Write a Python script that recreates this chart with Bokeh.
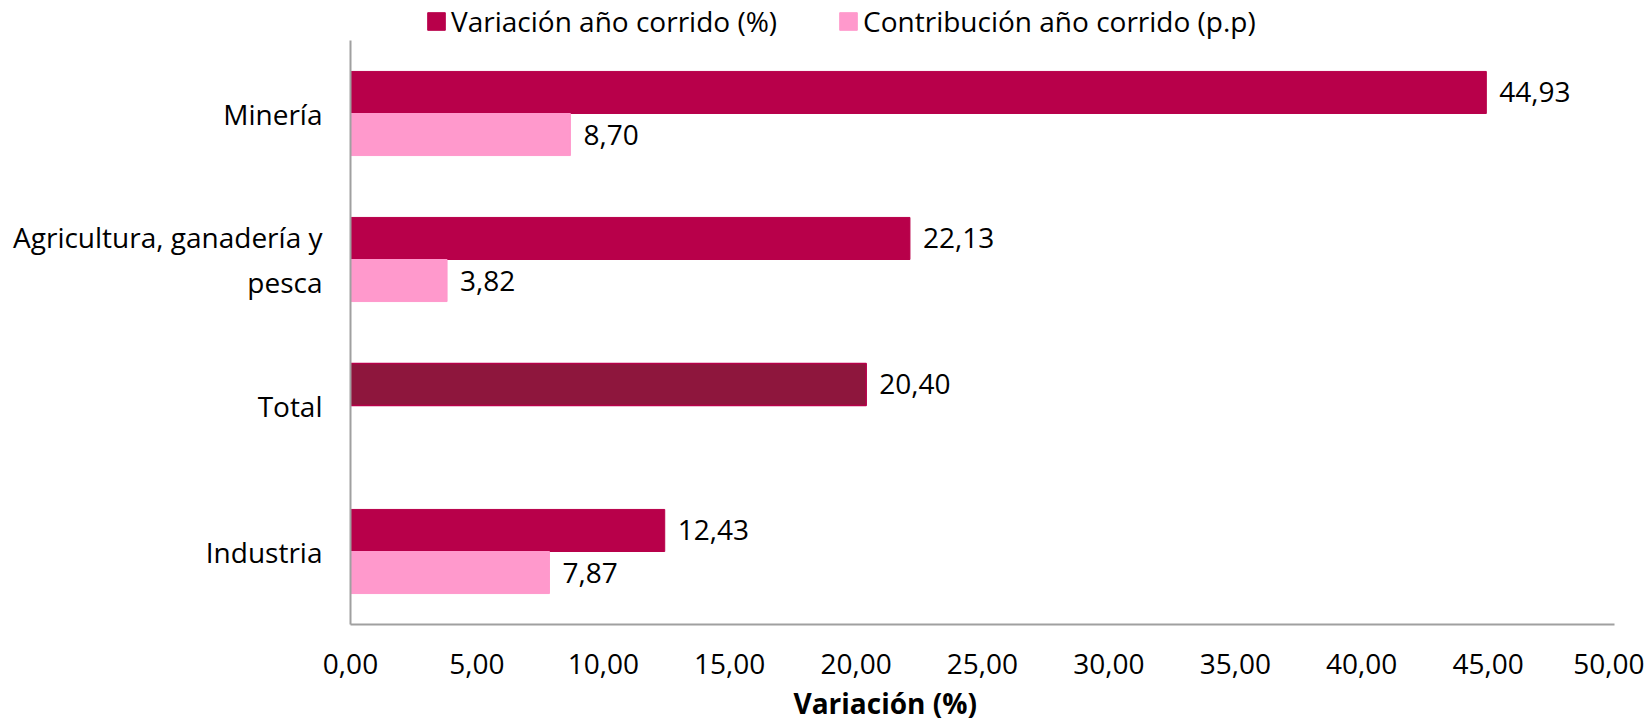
from bokeh.plotting import figure
from bokeh.layouts import column
from bokeh.models import (ColumnDataSource, FixedTicker, CustomJSTickFormatter, Legend,
                          LegendItem, Title)
from bokeh.transform import dodge
from bokeh.core.properties import value
from bokeh.embed import file_html
from bokeh.resources import INLINE

# ---- data ----
categories = ["Minería", "Agricultura, ganadería y\npesca", "Total", "Industria"]
variacion = [44.93, 22.13, 20.40, 12.43]
contribucion = [8.70, 3.82, None, 7.87]
x_ticks = [0, 5, 10, 15, 20, 25, 30, 35, 40, 45, 50]
legend_labels = ["Variación año corrido (%)", "Contribución año corrido (p.p)"]
axis_title = "Variación (%)"

DARK = "#B8004A"
LIGHT = "#FF99CC"
TOTAL = "#8E163D"
FONT = "Open Sans"
FS = "28px"

def fmt(v):
    return f"{v:.2f}".replace(".", ",")

factors = list(reversed(categories))

var_main = dict(cat=[], val=[], lab=[])
var_total = dict(cat=[], val=[], lab=[])
con = dict(cat=[], val=[], lab=[])
for c, v, k in zip(categories, variacion, contribucion):
    tgt = var_total if c == "Total" else var_main
    tgt["cat"].append(c); tgt["val"].append(v); tgt["lab"].append(fmt(v))
    if k is not None:
        con["cat"].append(c); con["val"].append(k); con["lab"].append(fmt(k))

src_var = ColumnDataSource(var_main)
src_tot = ColumnDataSource(var_total)
src_con = ColumnDataSource(con)

W = 1644

# ---- legend strip (own small figure so the legend is not clipped) ----
LH = 40
lg = figure(width=W, height=LH, x_range=(0, 1), y_range=(0, 1), output_backend="svg",
            toolbar_location=None, x_axis_type=None, y_axis_type=None,
            min_border=0, min_border_left=0, min_border_right=0,
            min_border_top=0, min_border_bottom=0)
lg.grid.visible = False
lg.outline_line_color = None
# legend keys only: one series value each, placed outside the strip's visible range
d1 = lg.hbar(y=[-10], right=[variacion[0]], height=1, fill_color=DARK, line_color=DARK)
d2 = lg.hbar(y=[-10], right=[contribucion[0]], height=1, fill_color=LIGHT, line_color=LIGHT)
legend = Legend(items=[LegendItem(label=legend_labels[0], renderers=[d1]),
                       LegendItem(label=legend_labels[1], renderers=[d2])],
                orientation="horizontal", location=(75, 0))
legend.label_text_font = FONT
legend.label_text_font_size = FS
legend.label_text_color = "#000000"
legend.glyph_width = 22
legend.glyph_height = 22
legend.label_standoff = 4
legend.spacing = 60
legend.padding = 0
legend.margin = 0
legend.border_line_color = None
legend.background_fill_alpha = 0
lg.add_layout(legend, "center")

# ---- main chart ----
FH = 584
p = figure(y_range=factors, x_range=(0, 50), output_backend="svg", toolbar_location=None,
           frame_width=1264, frame_height=FH,
           min_border_left=350, min_border_right=30, min_border_top=0, min_border_bottom=4)

OFF = 0.144
H = 0.288
p.hbar(y=dodge("cat", OFF, range=p.y_range), right="val", left=0, height=H,
       source=src_var, fill_color=DARK, line_color=DARK)
p.hbar(y=dodge("cat", OFF, range=p.y_range), right="val", left=0, height=H,
       source=src_tot, fill_color=TOTAL, line_color=DARK, line_width=1.5)
p.hbar(y=dodge("cat", -OFF, range=p.y_range), right="val", left=0, height=H,
       source=src_con, fill_color=LIGHT, line_color=LIGHT)

for s, off in ((src_var, OFF), (src_tot, OFF), (src_con, -OFF)):
    p.text(x="val", y=dodge("cat", off, range=p.y_range), text="lab", source=s,
           x_offset=13, text_baseline="middle", text_align="left",
           text_font=value(FONT), text_font_size=FS, text_color="#000000")

p.xaxis.ticker = FixedTicker(ticks=x_ticks)
p.xaxis.formatter = CustomJSTickFormatter(code="return tick.toFixed(2).replace('.', ',');")
for ax in (p.xaxis, p.yaxis):
    ax.major_tick_line_color = None
    ax.minor_tick_line_color = None
    ax.major_tick_out = 0
    ax.major_tick_in = 0
    ax.axis_line_color = "#A0A0A0"
    ax.axis_line_width = 2
    ax.major_label_text_font = FONT
    ax.major_label_text_font_size = FS
    ax.major_label_text_color = "#000000"
p.xaxis.major_label_standoff = 29
p.yaxis.major_label_standoff = 28

p.xgrid.grid_line_color = None
p.ygrid.grid_line_color = None
p.outline_line_color = None

t = Title(text=axis_title, align="left", offset=443, text_font=FONT,
          text_font_size=FS, text_font_style="bold", text_color="#000000")
p.add_layout(t, "below")

layout = column(lg, p, spacing=0)
open("out.html", "w").write(file_html(layout, INLINE))
